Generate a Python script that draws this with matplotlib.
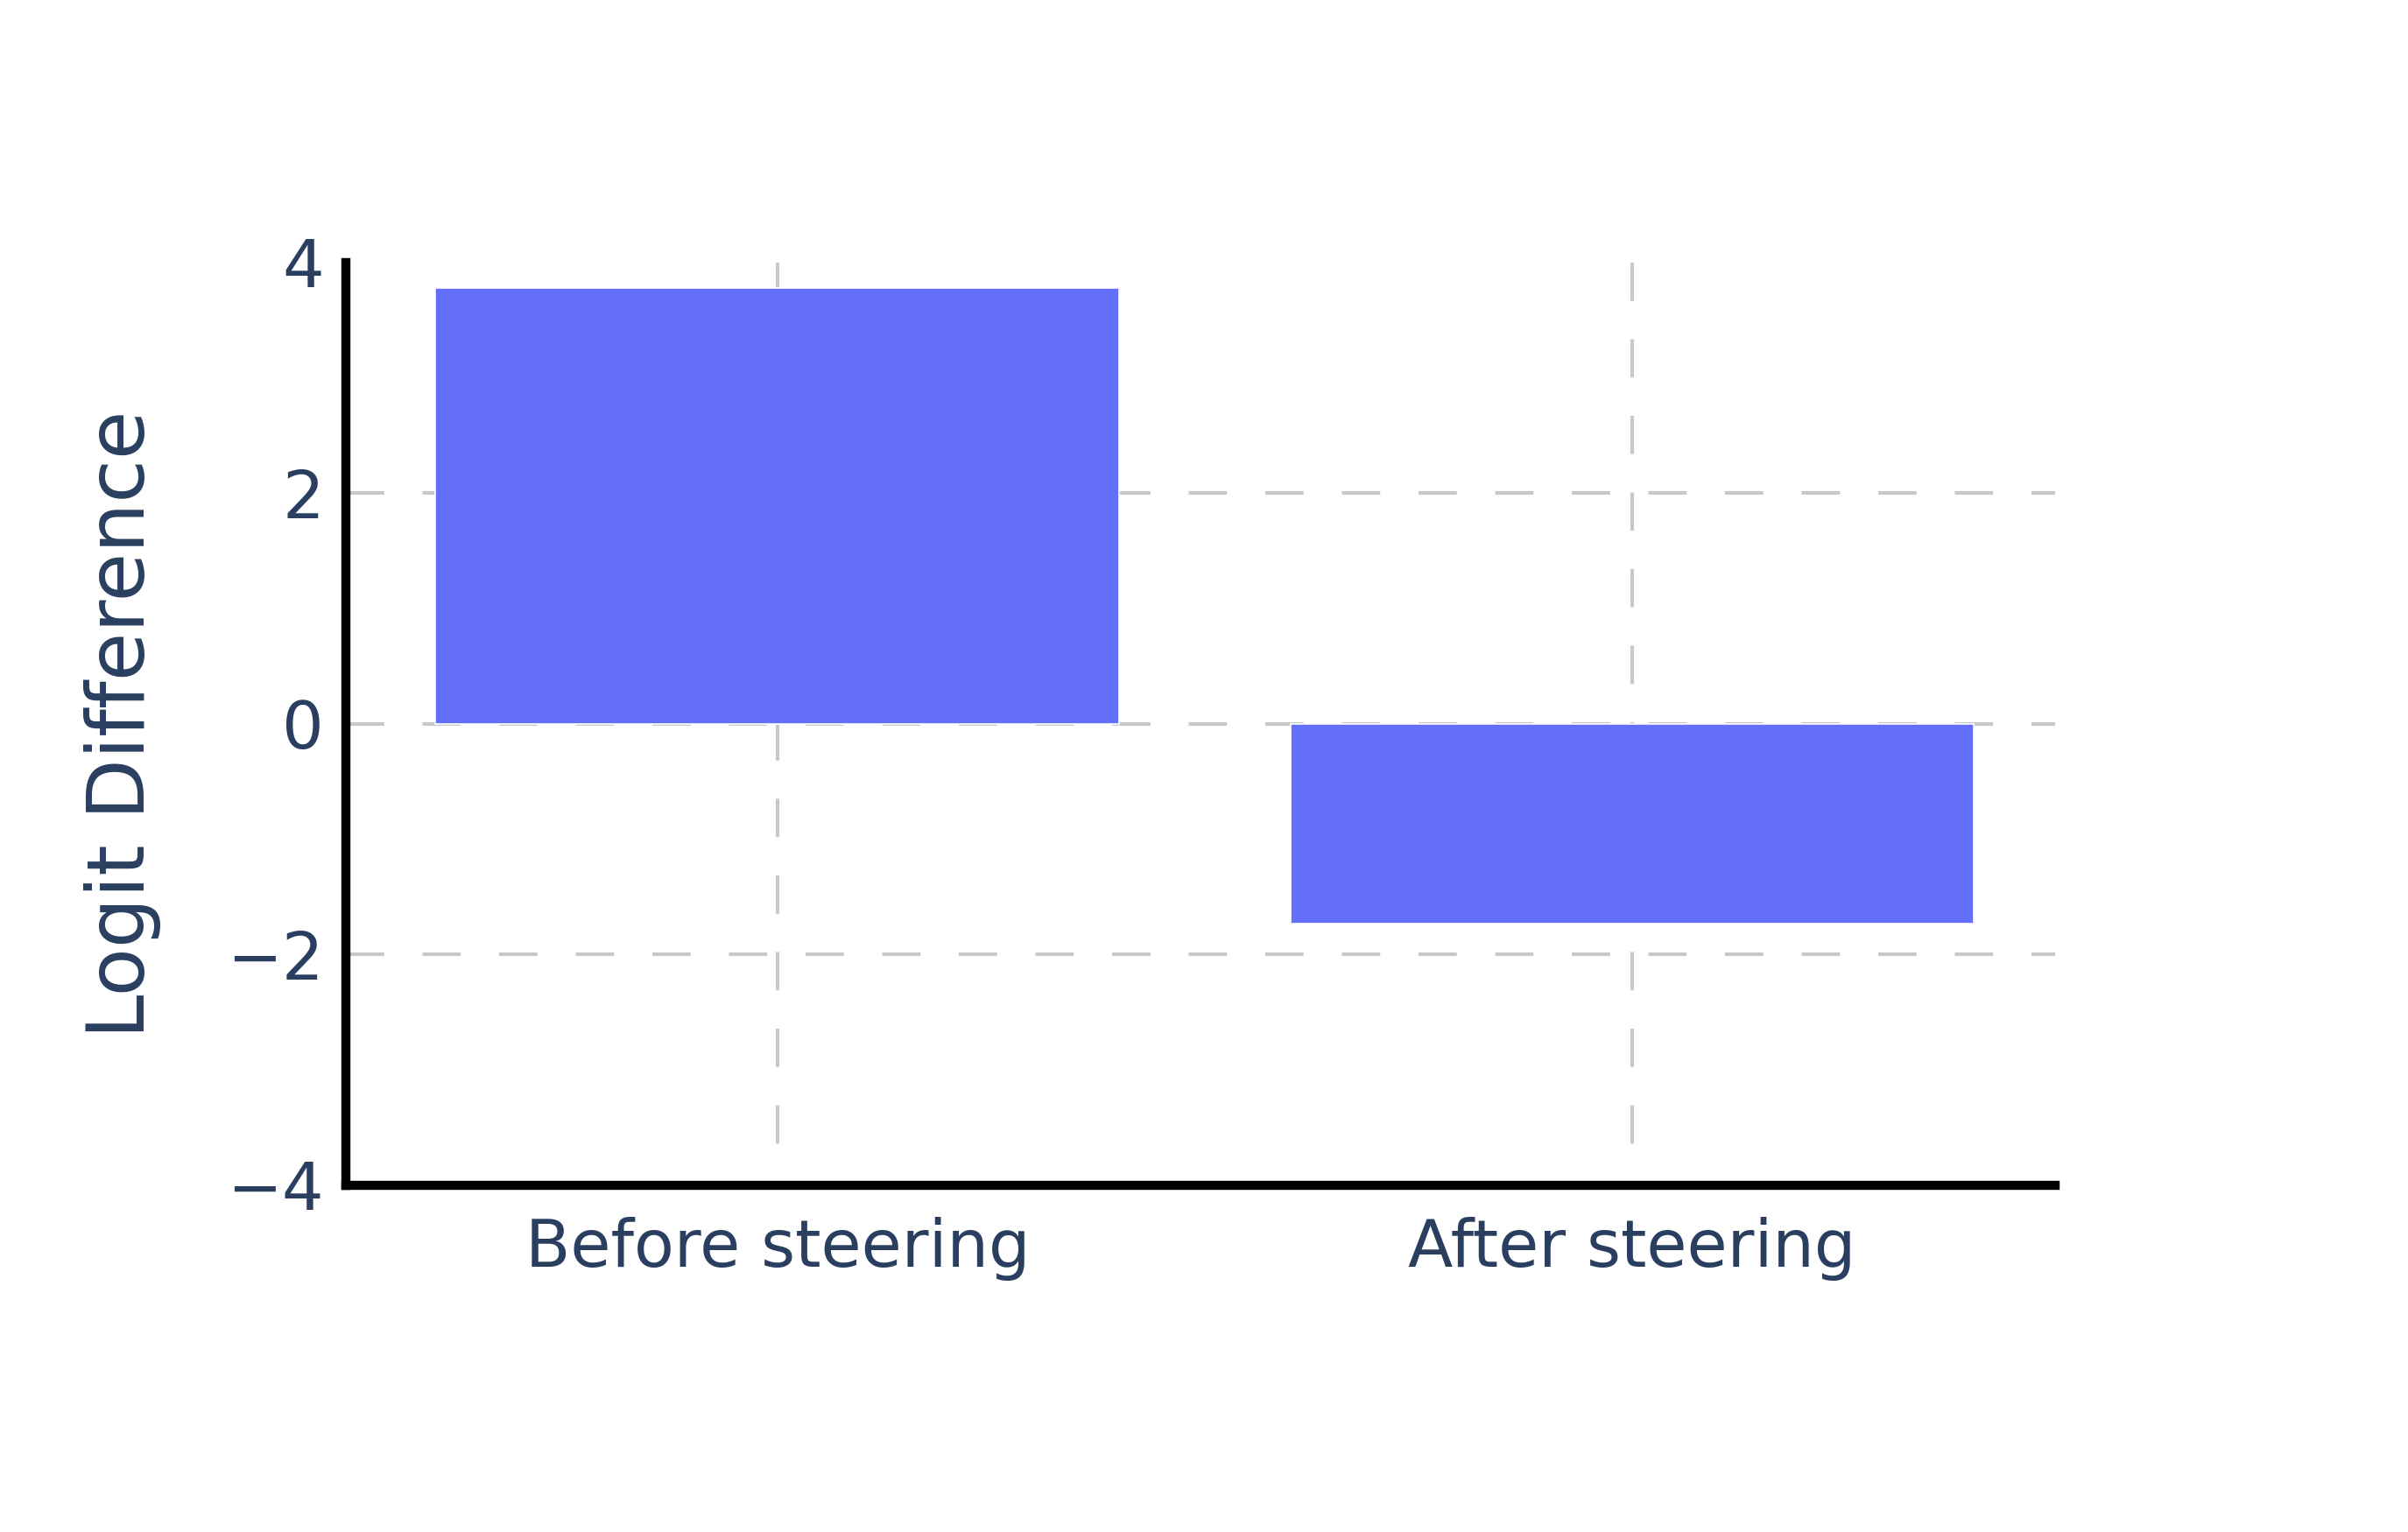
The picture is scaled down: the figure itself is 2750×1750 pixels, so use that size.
import numpy as np
import matplotlib.pyplot as plt

# data
categories = ['Before steering', 'After steering']
logit_diff = [3.78, -1.73]
yticks = [-4, -2, 0, 2, 4]

text_col = '#2a3f5f'
bar_col = '#636efa'
grid_col = '#c8c8c8'

fig = plt.figure(figsize=(27.5, 17.5), dpi=100)
ax = fig.add_axes([0.1436, 0.2263, 0.7099, 0.6023])

x = np.arange(len(categories))
ax.bar(x, logit_diff, width=0.8, color=bar_col, edgecolor='white',
       linewidth=1.2, zorder=3)

ax.set_xlim(-0.505, 1.495)
ax.set_ylim(-4, 4)
ax.set_xticks(x)
ax.set_xticklabels(categories)
ax.set_yticks(yticks)
ax.set_yticklabels([str(v).replace('-', '\u2212') for v in yticks])

# dashed grid (plotly style), skip lines sitting on the axes
dash = (0, (10.5, 10.5))
for v in [-2, 0, 2]:
    ax.axhline(v, color=grid_col, lw=3, linestyle=dash, zorder=1)
for xv in x:
    # draw from the top down so the dash pattern starts at the top
    ax.plot([xv, xv], [4, -4], color=grid_col, lw=3, linestyle=dash, zorder=1)

for s in ['top', 'right']:
    ax.spines[s].set_visible(False)
for s in ['left', 'bottom']:
    ax.spines[s].set_linewidth(7.5)
    ax.spines[s].set_color('black')

ax.tick_params(axis='both', length=0, labelsize=54, labelcolor=text_col)
ax.tick_params(axis='y', pad=18)
ax.tick_params(axis='x', pad=26)
ax.set_ylabel('Logit Difference', fontsize=65, color=text_col, labelpad=54)

fig.savefig('out.png', dpi=100, facecolor='white')
